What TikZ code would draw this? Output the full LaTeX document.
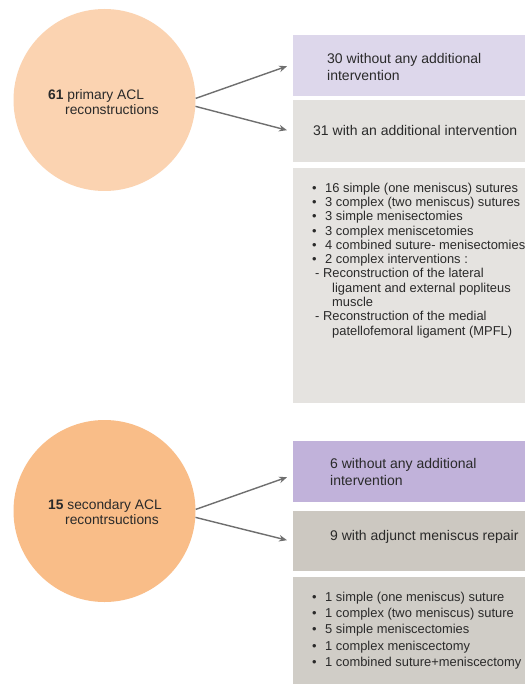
\documentclass[tikz,border=0pt]{standalone}
\usepackage{fontspec}
\setmainfont{Liberation Sans}
\usetikzlibrary{arrows.meta,calc}
\definecolor{peachA}{HTML}{FBD3B1}
\definecolor{peachB}{HTML}{F9BD88}
\definecolor{lavA}{HTML}{DDD7EB}
\definecolor{lavB}{HTML}{C1B2DA}
\definecolor{greyA}{HTML}{E3E1DE}
\definecolor{greyB}{HTML}{E5E3E0}
\definecolor{greyC}{HTML}{CCC8C1}
\definecolor{greyD}{HTML}{D0CDC7}
\definecolor{txt}{HTML}{2A2A2A}
\definecolor{arr}{HTML}{6F6F6F}
\tikzset{
  circ/.style={circle, minimum size=182pt, inner sep=0pt, draw=none},
  boxn/.style={rectangle, anchor=north west, minimum width=232pt, inner sep=0pt, draw=none},
  txtn/.style={anchor=west, inner sep=0pt, align=left, text=txt},
  conn/.style={draw=arr, line width=1.4pt, -{Stealth[length=8pt,width=6.5pt]}},
  bul/.style={}
}
\newcommand{\bl}{\makebox[13pt][l]{\textbullet}}
\begin{document}
\begin{tikzpicture}[x=1pt,y=-1pt]
\useasboundingbox[fill=white] (0,0) rectangle (525,684);
% circles
\node[circ, fill=peachA] (c1) at (104.5,100) {};
\node[circ, fill=peachB] (c2) at (104.5,511) {};
\node[txtn, font=\fontsize{13.8}{14.5}\selectfont] (c1t) at (48,102) {\textbf{61} primary ACL\\\hspace{17pt}reconstructions};
\node[txtn, font=\fontsize{13.8}{14.5}\selectfont] (c2t) at (48,512) {\textbf{15} secondary ACL\\\hspace{17pt}recontrsuctions};
% boxes
\node[boxn, fill=lavA, minimum height=61pt] (b1) at (293,35) {};
\node[boxn, fill=greyA, minimum height=62pt] (b2) at (293,100) {};
\node[boxn, fill=greyB, minimum height=235pt] (b3) at (293,168) {};
\node[boxn, fill=lavB, minimum height=61pt] (b4) at (293,441) {};
\node[boxn, fill=greyC, minimum height=60pt] (b5) at (293,511) {};
\node[boxn, fill=greyD, minimum height=107pt] (b6) at (293,577) {};
% texts
\node[txtn, font=\fontsize{14}{17}\selectfont] (t1) at (327,66.5) {30 without any additional\\intervention};
\node[txtn, font=\fontsize{14}{17}\selectfont] (t2) at (313,130) {31 with an additional intervention};
\node[txtn, font=\fontsize{12.9}{14.3}\selectfont] (t3) at (312,260.3) {\bl16 simple (one meniscus) sutures\\
\bl3 complex (two meniscus) sutures\\
\bl3 simple menisectomies\\
\bl3 complex meniscetomies\\
\bl4 combined suture- menisectomies\\
\bl2 complex interventions :\\
\hspace{3pt}- Reconstruction of the lateral\\
\hspace{20pt}ligament and external popliteus\\
\hspace{20pt}muscle\\
\hspace{3pt}- Reconstruction of the medial\\
\hspace{20pt}patellofemoral ligament (MPFL)};
\node[txtn, font=\fontsize{14}{17}\selectfont] (t4) at (330,471.5) {6 without any additional\\intervention};
\node[txtn, font=\fontsize{14}{17}\selectfont] (t5) at (330,537) {9 with adjunct meniscus repair};
\node[txtn, font=\fontsize{12.9}{16.25}\selectfont] (t6) at (312,630.5) {\bl1 simple (one meniscus) suture\\
\bl1 complex (two meniscus) suture\\
\bl5 simple meniscectomies\\
\bl1 complex meniscectomy\\
\bl1 combined suture+meniscectomy};
% connectors
\draw[conn] (c1.1) -- ($(b1.west)+(-6,0.5)$);
\draw[conn] (c1.-4) -- ($(b2.west)+(-6,-1)$);
\draw[conn] (c2.1) -- ($(b4.west)+(-6,5.5)$);
\draw[conn] (c2.-4) -- ($(b5.west)+(-6,-1)$);
\end{tikzpicture}
\end{document}
